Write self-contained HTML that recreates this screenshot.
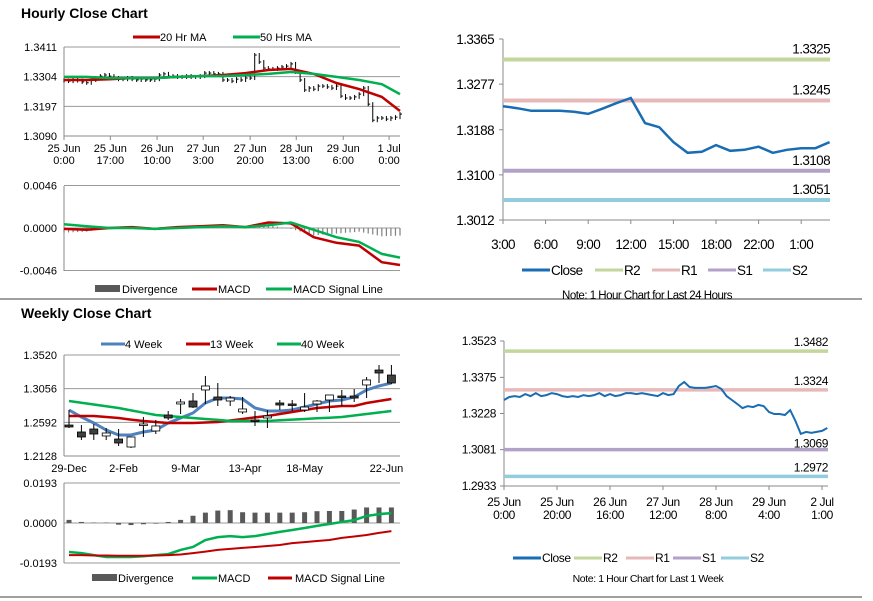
<!DOCTYPE html>
<html><head><meta charset="utf-8"><style>
html,body{margin:0;padding:0;background:#fff;}
svg{display:block;font-family:"Liberation Sans",Arial,sans-serif;}
</style></head><body>
<svg id="c" width="873" height="601" viewBox="0 0 873 601" xmlns="http://www.w3.org/2000/svg">
<rect x="0" y="0" width="873" height="601" fill="#fff"/>
<text x="21" y="18" font-size="14" font-weight="bold" fill="#000">Hourly Close Chart</text>
<text x="21" y="318" font-size="14" font-weight="bold" fill="#000">Weekly Close Chart</text>
<line x1="0" y1="299" x2="862" y2="299" stroke="#808080" stroke-width="1.5"/>
<line x1="0" y1="597" x2="862" y2="597" stroke="#808080" stroke-width="1.5"/>
</svg>
<script>
// ===== Hourly price chart data (2-hour closes, moving averages every 10h) =====
const hCloses=[1.3290,1.3288,1.3293,1.3290,1.3285,1.3282,1.3292,1.3299,1.3306,1.3310,1.3306,1.3299,1.3295,1.3295,1.3299,1.3295,1.3292,1.3295,1.3292,1.3292,1.3295,1.3310,1.3314,1.3306,1.3306,1.3303,1.3303,1.3306,1.3303,1.3303,1.3306,1.3317,1.3317,1.3314,1.3314,1.3292,1.3292,1.3288,1.3295,1.3292,1.3299,1.3299,1.3382,1.3357,1.3335,1.3332,1.3332,1.3335,1.3339,1.3342,1.3350,1.3321,1.3292,1.3256,1.3263,1.3259,1.3270,1.3270,1.3267,1.3263,1.3270,1.3234,1.3227,1.3227,1.3231,1.3241,1.3263,1.3205,1.3147,1.3155,1.3155,1.3151,1.3155,1.3158,1.3169];
const hMA20=[1.3292,1.3292,1.3295,1.3299,1.3299,1.3303,1.3306,1.3310,1.3317,1.3328,1.3332,1.3314,1.3281,1.3259,1.3231,1.3180];
const hMA50=[1.3303,1.3303,1.3299,1.3299,1.3299,1.3303,1.3306,1.3306,1.3310,1.3314,1.3321,1.3314,1.3303,1.3292,1.3277,1.3241];
const hMACD=[-0.0001,-0.0002,0.0000,0.0001,-0.0001,0.0001,0.0002,0.0003,0.0001,0.0006,0.0005,-0.0010,-0.0016,-0.0019,-0.0037,-0.0040];
const hSignal=[0.0004,0.0002,0.0000,0.0000,-0.0001,0.0000,0.0001,0.0002,0.0001,0.0003,0.0006,-0.0002,-0.0010,-0.0015,-0.0028,-0.0032];
const hYTicks=[1.3411,1.3304,1.3197,1.3090];
const hXLabels=[["25 Jun","0:00"],["25 Jun","17:00"],["26 Jun","10:00"],["27 Jun","3:00"],["27 Jun","20:00"],["28 Jun","13:00"],["29 Jun","6:00"],["1 Jul","0:00"]];
const hXHours=[0,20.4,41,61.3,82,102.3,123,143.2];
const hMTicks=[0.0046,0.0000,-0.0046];
// ===== 24h chart =====
const dCloses=[1.3234,1.3230,1.3225,1.3225,1.3225,1.3223,1.3219,1.3229,1.3240,1.3250,1.3201,1.3193,1.3164,1.3143,1.3145,1.3158,1.3147,1.3149,1.3155,1.3143,1.3149,1.3152,1.3152,1.3164];
const dXLabels=["3:00","6:00","9:00","12:00","15:00","18:00","22:00","1:00"];
const dXIdx=[0,3,6,9,12,15,18,21];
const dYTicks=[1.3365,1.3277,1.3188,1.3100,1.3012];
const dLevels=[1.3325,1.3245,1.3108,1.3051];
// ===== 1-week chart =====
const wkCloses=[1.3283,1.3295,1.3299,1.3295,1.3307,1.3299,1.3311,1.3299,1.3303,1.3311,1.3307,1.3299,1.3295,1.3299,1.3295,1.3303,1.3299,1.3303,1.3311,1.3299,1.3307,1.3299,1.3303,1.3311,1.3311,1.3307,1.3311,1.3307,1.3303,1.3299,1.3311,1.3303,1.3307,1.3340,1.3356,1.3336,1.3332,1.3332,1.3332,1.3336,1.3340,1.3328,1.3299,1.3283,1.3267,1.3250,1.3258,1.3254,1.3263,1.3258,1.3234,1.3226,1.3226,1.3222,1.3242,1.3197,1.3145,1.3153,1.3149,1.3153,1.3157,1.3169];
const bXLabels=[["25 Jun","0:00"],["25 Jun","20:00"],["26 Jun","16:00"],["27 Jun","12:00"],["28 Jun","8:00"],["29 Jun","4:00"],["2 Jul","1:00"]];
const bXHours=[0,20,40,60,80,100,120];
const bYTicks=[1.3523,1.3375,1.3228,1.3081,1.2933];
const bLevels=[1.3482,1.3324,1.3081,1.2972];
const bLowLabel=1.3069;
// ===== Weekly candles =====
const wOpen =[1.2555,1.2459,1.2500,1.2404,1.2362,1.2252,1.2555,1.2473,1.2693,1.2845,1.2886,1.3038,1.2941,1.2886,1.2735,1.2624,1.2652,1.2859,1.2845,1.2762,1.2845,1.2900,1.2955,1.2955,1.3107,1.3313,1.3244];
const wClose=[1.2528,1.2390,1.2431,1.2445,1.2307,1.2390,1.2569,1.2542,1.2652,1.2872,1.2803,1.3093,1.2900,1.2927,1.2776,1.2617,1.2679,1.2831,1.2831,1.2803,1.2886,1.2969,1.2941,1.2927,1.3176,1.3272,1.3134];
const wHigh =[1.2762,1.2555,1.2569,1.2514,1.2500,1.2390,1.2666,1.2624,1.2748,1.2914,1.2996,1.3231,1.3134,1.2955,1.2941,1.2748,1.2762,1.2900,1.2900,1.2996,1.2900,1.2969,1.3038,1.3051,1.3217,1.3382,1.3382];
const wLow  =[1.2514,1.2349,1.2349,1.2349,1.2266,1.2238,1.2390,1.2431,1.2624,1.2707,1.2790,1.2845,1.2817,1.2817,1.2707,1.2542,1.2514,1.2762,1.2748,1.2735,1.2735,1.2735,1.2817,1.2872,1.2927,1.3134,1.3120];
const w4 =[1.2762,1.2666,1.2583,1.2487,1.2418,1.2418,1.2459,1.2487,1.2583,1.2652,1.2721,1.2859,1.2927,1.2927,1.2914,1.2790,1.2748,1.2748,1.2762,1.2803,1.2845,1.2886,1.2900,1.2941,1.3038,1.3093,1.3134];
const w13=[1.2679,1.2679,1.2679,1.2665,1.2652,1.2630,1.2611,1.2597,1.2583,1.2583,1.2583,1.2590,1.2597,1.2617,1.2638,1.2660,1.2679,1.2707,1.2735,1.2762,1.2790,1.2803,1.2817,1.2817,1.2859,1.2886,1.2914];
const w40=[1.2886,1.2862,1.2838,1.2814,1.2790,1.2757,1.2725,1.2693,1.2679,1.2666,1.2652,1.2638,1.2625,1.2611,1.2611,1.2611,1.2611,1.2620,1.2629,1.2638,1.2647,1.2656,1.2666,1.2686,1.2707,1.2728,1.2748];
const wDiv=[0.0015,0.0005,0.0002,0.0002,-0.0008,-0.0010,-0.0006,-0.0003,0.0005,0.0015,0.0035,0.0050,0.0060,0.0062,0.0052,0.0050,0.0050,0.0050,0.0050,0.0052,0.0057,0.0058,0.0058,0.0065,0.0075,0.0075,0.0075];
const wMACD=[-0.0140,-0.0145,-0.0155,-0.0164,-0.0164,-0.0164,-0.0160,-0.0155,-0.0150,-0.0130,-0.0116,-0.0082,-0.0068,-0.0063,-0.0068,-0.0063,-0.0053,-0.0043,-0.0034,-0.0024,-0.0014,-0.0005,0.0005,0.0014,0.0034,0.0043,0.0048];
const wSignal=[-0.0155,-0.0155,-0.0157,-0.0157,-0.0158,-0.0158,-0.0158,-0.0157,-0.0155,-0.0152,-0.0145,-0.0138,-0.0130,-0.0125,-0.0120,-0.0116,-0.0111,-0.0106,-0.0097,-0.0092,-0.0087,-0.0082,-0.0072,-0.0065,-0.0058,-0.0048,-0.0039];
const wYTicks=[1.3520,1.3056,1.2592,1.2128];
const wXLabels=["29-Dec","2-Feb","9-Mar","13-Apr","18-May","22-Jun"];
const wXIdx=[0,4.4,9.4,14.2,19,25.6];
const wMTicks=[0.0193,0.0000,-0.0193];

const NS="http://www.w3.org/2000/svg";
const svg=document.getElementById('c');
function mk(tag,a){const e=document.createElementNS(NS,tag);for(const k in a)e.setAttribute(k,a[k]);svg.appendChild(e);return e;}
function tx(x,y,s,a){const e=mk('text',Object.assign({x:x,y:y,'font-size':11,fill:'#000'},a||{}));e.textContent=s;return e;}
function pathOf(xs,ys){let d='';for(let i=0;i<xs.length;i++)d+=(i?'L':'M')+xs[i].toFixed(1)+' '+ys[i].toFixed(1);return d;}
const RED="#c00000",GREEN="#00b050",BLUE4="#4f81bd",CLOSE="#1a6db3";
const LVC=["#c3d69b","#e6b9b8","#b3a2c7","#93cddd"];
const LVN=["r2","r1","s1","s2"];

// ---------- Hourly price ----------
const xH=h=>64+h*(336/148);
const yH=p=>47+(1.3411-p)/0.0321*89;
hYTicks.forEach((v,i)=>{
  let g=mk('line',{x1:64,x2:400,y1:yH(v),y2:yH(v),stroke:i==3?'#888':'#999','stroke-width':1});
  
  
  let t=tx(57,yH(v)+4,v.toFixed(4),{'text-anchor':'end'});
  
  
});
let ax=mk('line',{x1:64,x2:64,y1:47,y2:136,stroke:'#888'});


hXLabels.forEach((l,i)=>{
  const x=xH(hXHours[i]);
  let tk=mk('line',{x1:x,x2:x,y1:136,y2:140,stroke:'#888'});
  
  
  let t1=tx(x,152,l[0],{'text-anchor':'middle'});
  
  
  let t2=tx(x,164,l[1],{'text-anchor':'middle'});
  
  
});
hCloses.forEach((c,i)=>{
  const prev=i?hCloses[i-1]:c;
  const x=xH(2*i);
  const y1=Math.min(yH(prev),yH(c))-2, y2=Math.max(yH(prev),yH(c))+2;
  let b=mk('line',{x1:x,x2:x,y1:y1,y2:y2,stroke:'#000','stroke-width':1});
  
  
  let tk=mk('line',{x1:x,x2:x+2,y1:yH(c),y2:yH(c),stroke:'#000','stroke-width':1});
  
  
});
const hMAx=hMA20.map((_,i)=>Math.min(xH(i*10),400));
let ma20=mk('path',{d:pathOf(hMAx,hMA20.map(yH)),fill:'none',stroke:RED,'stroke-width':2.5});


let ma50=mk('path',{d:pathOf(hMAx,hMA50.map(yH)),fill:'none',stroke:GREEN,'stroke-width':2.5});


let l1=mk('line',{x1:133,x2:160,y1:37,y2:37,stroke:RED,'stroke-width':3});


let lt1=tx(160,41,'20 Hr MA');


let l2=mk('line',{x1:233,x2:260,y1:37,y2:37,stroke:GREEN,'stroke-width':3});


let lt2=tx(260,41,'50 Hrs MA');



// ---------- Hourly MACD ----------
const yM=v=>228-v/0.0046*42.5;
hMTicks.forEach(v=>{
  let g=mk('line',{x1:64,x2:400,y1:yM(v),y2:yM(v),stroke:'#999'});
  
  
  let t=tx(57,yM(v)+4,v.toFixed(4),{'text-anchor':'end'});
  
  
});
let ax2=mk('line',{x1:64,x2:64,y1:186,y2:271,stroke:'#888'});


for(let i=0;i<hMACD.length-1;i++){
  for(let s=0;s<5;s++){
    const f=s/5;
    const m=hMACD[i]+(hMACD[i+1]-hMACD[i])*f, sg=hSignal[i]+(hSignal[i+1]-hSignal[i])*f;
    const x=xH((i+f)*10);
    if(x>400)continue;
    const dv=m-sg;
    let b=mk('line',{x1:x,x2:x,y1:yM(0),y2:yM(dv),stroke:'#808080','stroke-width':1.2});
    
    
  }
}
let hm=mk('path',{d:pathOf(hMAx,hMACD.map(yM)),fill:'none',stroke:RED,'stroke-width':2.5});


let hs=mk('path',{d:pathOf(hMAx,hSignal.map(yM)),fill:'none',stroke:GREEN,'stroke-width':2.5});


let d1=mk('rect',{x:95,y:285,width:25,height:7,fill:'#595959'});


let dt1=tx(122,293,'Divergence');


let d2=mk('line',{x1:192,x2:217,y1:289,y2:289,stroke:RED,'stroke-width':3});


let dt2=tx(218,293,'MACD');


let d3=mk('line',{x1:266,x2:292,y1:289,y2:289,stroke:GREEN,'stroke-width':3});


let dt3=tx(293,293,'MACD Signal Line');



// ---------- 24h chart ----------
const xR=i=>503+i*14.2;
const yR=p=>39+(1.3365-p)/0.0353*181;
let ra=mk('line',{x1:503,x2:503,y1:39,y2:220,stroke:'#888'});


let rb=mk('line',{x1:503,x2:830,y1:220,y2:220,stroke:'#888'});


dYTicks.forEach(v=>{
  let tk=mk('line',{x1:499,x2:503,y1:yR(v),y2:yR(v),stroke:'#888'});
  
  
  let t=tx(494,yR(v)+5,v.toFixed(4),{'text-anchor':'end','font-size':13.5,'letter-spacing':'-0.6'});
  
  
});
dXLabels.forEach((l,i)=>{
  const x=xR(dXIdx[i]);
  let tk=mk('line',{x1:x,x2:x,y1:220,y2:224,stroke:'#888'});
  
  
  let t=tx(x,249,l,{'text-anchor':'middle','font-size':13.5,'letter-spacing':'-0.6'});
  
  
});
dLevels.forEach((v,i)=>{
  let ln=mk('line',{x1:503,x2:830,y1:yR(v),y2:yR(v),stroke:LVC[i],'stroke-width':4});
  
  
  let t=tx(830,yR(v)-6,v.toFixed(4),{'text-anchor':'end','font-size':13.5,'letter-spacing':'-0.6'});
  
  
});
let dl=mk('path',{d:pathOf(dCloses.map((_,i)=>xR(i)),dCloses.map(yR)),fill:'none',stroke:CLOSE,'stroke-width':2.5});


const dLeg=[["Close",CLOSE,522],["R2",LVC[0],595],["R1",LVC[1],652],["S1",LVC[2],708],["S2",LVC[3],763]];
dLeg.forEach(e=>{
  let s=mk('line',{x1:e[2],x2:e[2]+28,y1:270,y2:270,stroke:e[1],'stroke-width':3});
  
  
  let t=tx(e[2]+29,275,e[0],{'font-size':13.5,'letter-spacing':'-0.6'});
  
  
});
let n1=tx(647,299,'Note: 1 Hour Chart for Last 24 Hours',{'text-anchor':'middle','font-size':11.5,'letter-spacing':'-0.5'});



// ---------- 1-week chart ----------
const xB=h=>504+h*2.65;
const yB=p=>341+(1.3523-p)/0.059*145;
let ba=mk('line',{x1:504,x2:504,y1:341,y2:486,stroke:'#888'});


let bb=mk('line',{x1:504,x2:828,y1:486,y2:486,stroke:'#888'});


bYTicks.forEach(v=>{
  let tk=mk('line',{x1:500,x2:504,y1:yB(v),y2:yB(v),stroke:'#888'});
  
  
  let t=tx(496,yB(v)+4,v.toFixed(4),{'text-anchor':'end','font-size':12,'letter-spacing':'-0.4'});
  
  
});
bXLabels.forEach((l,i)=>{
  const x=xB(bXHours[i]);
  let tk=mk('line',{x1:x,x2:x,y1:486,y2:490,stroke:'#888'});
  
  
  let t1=tx(x,506,l[0],{'text-anchor':'middle','font-size':12,'letter-spacing':'-0.4'});
  
  
  let t2=tx(x,519,l[1],{'text-anchor':'middle','font-size':12,'letter-spacing':'-0.4'});
  
  
});
bLevels.forEach((v,i)=>{
  let ln=mk('line',{x1:504,x2:828,y1:yB(v),y2:yB(v),stroke:LVC[i],'stroke-width':3.5});
  
  
  if(i!=2){
    let t=tx(828,yB(v)-5,v.toFixed(4),{'text-anchor':'end','font-size':12,'letter-spacing':'-0.4'});
    
    
  }
});
let lowT=tx(828,yB(bLowLabel)-5,bLowLabel.toFixed(4),{'text-anchor':'end','font-size':12,'letter-spacing':'-0.4'});


let wl=mk('path',{d:pathOf(wkCloses.map((_,i)=>xB(2*i)),wkCloses.map(yB)),fill:'none',stroke:CLOSE,'stroke-width':2});


const bLeg=[["Close",CLOSE,513],["R2",LVC[0],574],["R1",LVC[1],626],["S1",LVC[2],673],["S2",LVC[3],721]];
bLeg.forEach(e=>{
  let s=mk('line',{x1:e[2],x2:e[2]+28,y1:558,y2:558,stroke:e[1],'stroke-width':3});
  
  
  let t=tx(e[2]+29,562,e[0],{'font-size':12,'letter-spacing':'-0.4'});
  
  
});
let n2=tx(648,582,'Note: 1 Hour Chart for  Last 1 Week',{'text-anchor':'middle','font-size':10.5,'letter-spacing':'-0.4'});



// ---------- Weekly candles ----------
const xW=i=>69+12.4*i;
const yW=p=>355+(1.3520-p)/0.1392*101;
wYTicks.forEach((v,i)=>{
  let g=mk('line',{x1:64,x2:400,y1:yW(v),y2:yW(v),stroke:i==3?'#888':'#999'});
  
  
  let t=tx(57,yW(v)+4,v.toFixed(4),{'text-anchor':'end'});
  
  
});
let wa=mk('line',{x1:64,x2:64,y1:355,y2:456,stroke:'#888'});


wXLabels.forEach((l,i)=>{
  let t=tx(xW(wXIdx[i]),472,l,{'text-anchor':'middle'});
  
  
});
let m4=mk('path',{d:pathOf(w4.map((_,i)=>xW(i)),w4.map(yW)),fill:'none',stroke:BLUE4,'stroke-width':3});


let m13=mk('path',{d:pathOf(w13.map((_,i)=>xW(i)),w13.map(yW)),fill:'none',stroke:RED,'stroke-width':2.5});


let m40=mk('path',{d:pathOf(w40.map((_,i)=>xW(i)),w40.map(yW)),fill:'none',stroke:GREEN,'stroke-width':2.5});


wOpen.forEach((o,i)=>{
  const c=wClose[i],x=xW(i);
  let wk=mk('line',{x1:x,x2:x,y1:yW(wHigh[i]),y2:yW(wLow[i]),stroke:'#000'});
  
  
  const top=yW(Math.max(o,c)),h=Math.max(1.5,Math.abs(yW(o)-yW(c)));
  let b=mk('rect',{x:x-4,y:top,width:8,height:h,fill:c<o?'#404040':'#fff',stroke:'#000','stroke-width':0.8});
  
  
});
const wLeg=[["4 Week",BLUE4,101],["13 Week",RED,186],["40 Week",GREEN,277]];
wLeg.forEach(e=>{
  let s=mk('line',{x1:e[2],x2:e[2]+24,y1:344,y2:344,stroke:e[1],'stroke-width':3});
  
  
  let t=tx(e[2]+24,348,e[0]);
  
  
});

// ---------- Weekly MACD ----------
const yWM=v=>523-v/0.0193*40;
wMTicks.forEach(v=>{
  let g=mk('line',{x1:64,x2:400,y1:yWM(v),y2:yWM(v),stroke:'#999'});
  
  
  let t=tx(57,yWM(v)+4,v.toFixed(4),{'text-anchor':'end'});
  
  
});
let wa2=mk('line',{x1:64,x2:64,y1:483,y2:563,stroke:'#888'});


wDiv.forEach((v,i)=>{
  const y0=yWM(0),y1=yWM(v);
  let b=mk('rect',{x:xW(i)-2.5,y:Math.min(y0,y1),width:5,height:Math.abs(y1-y0),fill:'#595959'});
  
  
});
let wm=mk('path',{d:pathOf(wMACD.map((_,i)=>xW(i)),wMACD.map(yWM)),fill:'none',stroke:GREEN,'stroke-width':2.5});


let ws=mk('path',{d:pathOf(wSignal.map((_,i)=>xW(i)),wSignal.map(yWM)),fill:'none',stroke:RED,'stroke-width':2});


let e1=mk('rect',{x:92,y:574,width:25,height:7,fill:'#595959'});


let et1=tx(118,582,'Divergence');


let e2=mk('line',{x1:192,x2:217,y1:578,y2:578,stroke:GREEN,'stroke-width':3});


let et2=tx(218,582,'MACD');


let e3=mk('line',{x1:268,x2:292,y1:578,y2:578,stroke:RED,'stroke-width':3});


let et3=tx(295,582,'MACD Signal Line');


</script>
</body></html>
